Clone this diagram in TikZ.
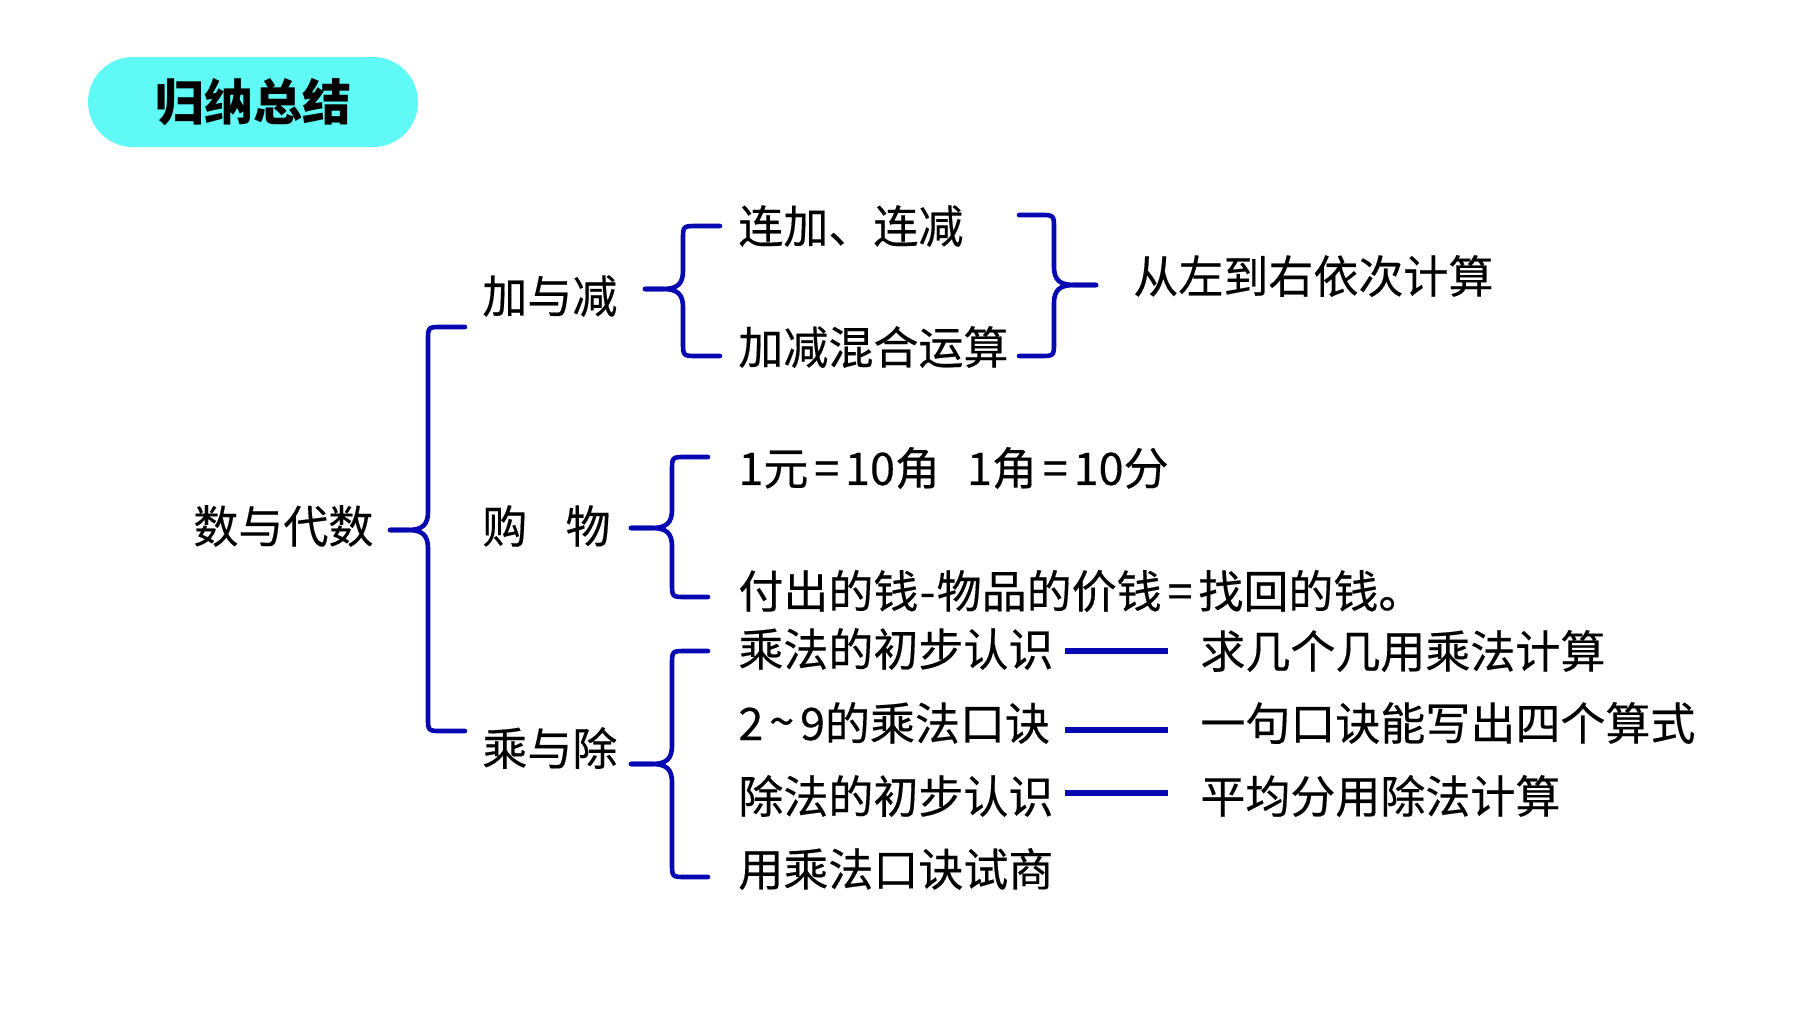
\documentclass[tikz,border=0pt]{standalone}
\usepackage{fontspec}
\setmainfont{Noto Sans CJK SC}
\newfontfamily\bodyfont{Noto Sans CJK SC}[FakeBold=0.35]
\definecolor{braceblue}{RGB}{8,8,178}
\definecolor{pillcyan}{RGB}{95,250,246}
\tikzset{
  br/.style={draw=braceblue,line width=2.3pt,line cap=round,line join=round},
  bline/.style={draw=braceblue,line width=2.6pt},
  txt/.style={anchor=west,inner sep=0pt,font=\bodyfont\fontsize{22.5}{27}\selectfont,text=black},
}
\newcommand\spc[1]{\hspace{0.13em}#1\hspace{0.13em}}
\newcommand\Lbr[6]{%
 \draw[br] (#2,#4) -- ({#1+14},#4) .. controls (#1,#4) .. (#1,{#4+14}) -- (#1,{#5-18}) .. controls (#1,{#5-5}) and ({#1-6},#5) .. ({#1-20},#5) -- (#3,#5);
 \draw[br] (#3,#5) -- ({#1-20},#5) .. controls ({#1-6},#5) and (#1,{#5+5}) .. (#1,{#5+18}) -- (#1,{#6-14}) .. controls (#1,#6) .. ({#1+14},#6) -- (#2,#6);}
\newcommand\Rbr[6]{%
 \draw[br] (#2,#4) -- ({#1-14},#4) .. controls (#1,#4) .. (#1,{#4+14}) -- (#1,{#5-18}) .. controls (#1,{#5-5}) and ({#1+6},#5) .. ({#1+20},#5) -- (#3,#5);
 \draw[br] (#3,#5) -- ({#1+20},#5) .. controls ({#1+6},#5) and (#1,{#5+5}) .. (#1,{#5+18}) -- (#1,{#6-14}) .. controls (#1,#6) .. ({#1-14},#6) -- (#2,#6);}
\begin{document}
\begin{tikzpicture}[x=0.5pt,y=-0.5pt]
\useasboundingbox[fill=white] (0,0) rectangle (1800,1012);
% title pill
\fill[pillcyan,rounded corners=22.5pt] (88,57) rectangle (418,147);
\node[inner sep=0pt,font=\fontsize{24.5}{29}\selectfont\bfseries] (title) at (253,102) {归纳总结};
% nodes
\node[txt] (root) at (193,526) {数与代数};
\node[txt] (a) at (482,296) {加与减};
\node[txt] (b) at (482,526) {购\hspace{0.85em}物};
\node[txt] (c) at (482,748) {乘与除};
\node[txt] (a1) at (738,226) {连加、连减};
\node[txt] (a2) at (738,347) {加减混合运算};
\node[txt] (ar) at (1133,276) {从左到右依次计算};
\node[txt] (b1) at (738,468) {1元\spc{=}10角\hspace{0.6em}1角\spc{=}10分};
\node[txt] (b2) at (738,591) {付出的钱\hspace{0.03em}-\hspace{0.03em}物品的价钱\spc{=}找回的钱。};
\node[txt] (c1) at (738,649) {乘法的初步认识};
\node[txt] (c2) at (738,723) {2\spc{\raisebox{0.05em}{\textasciitilde}}9的乘法口诀};
\node[txt] (c3) at (738,796) {除法的初步认识};
\node[txt] (c4) at (738,869) {用乘法口诀试商};
\node[txt] (r1) at (1200,651) {求几个几用乘法计算};
\node[txt] (r2) at (1200,723) {一句口诀能写出四个算式};
\node[txt] (r3) at (1200,796) {平均分用除法计算};
% braces
\Lbr{428}{465}{390}{327}{530}{731}
\Lbr{683}{720}{645}{226}{289}{356}
\Rbr{1054}{1019}{1096}{215}{285}{356}
\Lbr{672}{708}{631}{457}{528}{597}
\Lbr{672}{708}{631}{651}{764}{877}
% dashes
\draw[bline] (1065,651) -- (1168,651);
\draw[bline] (1065,730) -- (1168,730);
\draw[bline] (1065,793) -- (1168,793);
\end{tikzpicture}
\end{document}
